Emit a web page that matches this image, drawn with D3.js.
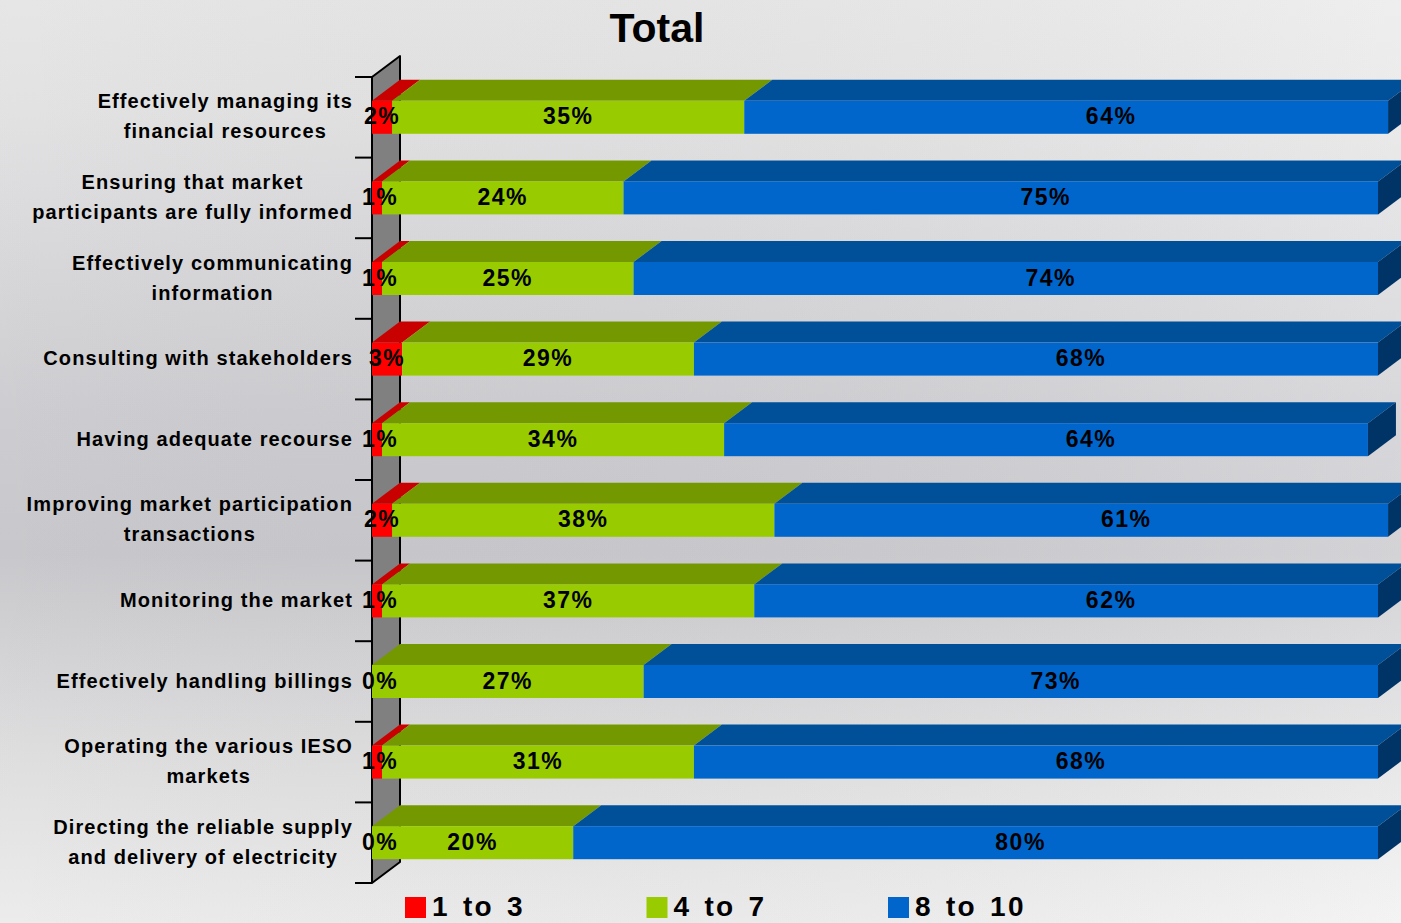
<!DOCTYPE html>
<html>
<head>
<meta charset="utf-8">
<script src="https://cdn.jsdelivr.net/npm/d3@7"></script>
<style>
  html, body { margin: 0; padding: 0; overflow: hidden; }
  svg { display: block; font-family: Arial, "Liberation Sans", sans-serif; }
</style>
</head>
<body>
<svg id="chart" width="1401" height="923"></svg>
<script>
// Rating distribution per attribute (share of respondents, %)
const categories = [
  "Effectively managing its|financial resources",
  "Ensuring that market|participants are fully informed",
  "Effectively communicating|information",
  "Consulting with stakeholders",
  "Having adequate recourse",
  "Improving market participation|transactions",
  "Monitoring the market",
  "Effectively handling billings",
  "Operating the various IESO|markets",
  "Directing the reliable supply|and delivery of electricity"
];
const seriesNames = ["1 to 3", "4 to 7", "8 to 10"];
const low  = [2, 1, 1, 3, 1, 2, 1, 0, 1, 0];
const mid  = [35, 24, 25, 29, 34, 38, 37, 27, 31, 20];
const high = [64, 75, 74, 68, 64, 61, 62, 73, 68, 80];
const titleText = "Total";

// face colours: front, top, side
const palette = [
  { front: "#ff0000", top: "#c80000", side: "#990000" },
  { front: "#99cc00", top: "#749900", side: "#5a7700" },
  { front: "#0066cc", top: "#004f99", side: "#003366" }
];

const W = 1401, H = 923;
const svg = d3.select("#chart");

// background gradient
const defs = svg.append("defs");
const vg = defs.append("linearGradient").attr("id", "bgV")
  .attr("x1", 0).attr("y1", 0).attr("x2", 0).attr("y2", 1);
[["0%", "#ececec"], ["12%", "#e8e8e9"], ["45%", "#d2d2d6"], ["60%", "#cdcdd1"],
 ["82%", "#e4e4e5"], ["100%", "#f2f2f2"]]
  .forEach(([o, c]) => vg.append("stop").attr("offset", o).attr("stop-color", c));
const hg = defs.append("linearGradient").attr("id", "bgH")
  .attr("x1", 0).attr("y1", 0).attr("x2", 1).attr("y2", 0);
hg.append("stop").attr("offset", "0%").attr("stop-color", "#000").attr("stop-opacity", 0.025);
hg.append("stop").attr("offset", "100%").attr("stop-color", "#fff").attr("stop-opacity", 0.12);
svg.append("rect").attr("width", W).attr("height", H).attr("fill", "url(#bgV)");
svg.append("rect").attr("width", W).attr("height", H).attr("fill", "url(#bgH)");

// scales
const x = d3.scaleLinear().domain([0, 100]).range([372, 1378]);
const y = d3.scaleBand().domain(d3.range(categories.length)).range([77, 883]);
const barH = 33;
const depth = { dx: 28, dy: -21 };

// side wall
const wallTop = y.range()[0], wallBot = y.range()[1], x0 = x(0);
svg.append("path")
  .attr("d", `M${x0},${wallTop} L${x0 + depth.dx},${wallTop + depth.dy} L${x0 + depth.dx},${wallBot + depth.dy} L${x0},${wallBot} Z`)
  .attr("fill", "#808080").attr("stroke", "#000").attr("stroke-width", 2).attr("stroke-linejoin", "round");

// category ticks
const tickPos = d3.range(categories.length + 1).map(i => wallTop + i * y.step());
svg.append("g").selectAll("line").data(tickPos).join("line")
  .attr("x1", x0 - 17).attr("x2", x0).attr("y1", d => d).attr("y2", d => d)
  .attr("stroke", "#000").attr("stroke-width", 2);

// stacked segments
const stackData = categories.map((c, i) => ({ i, low: low[i], mid: mid[i], high: high[i] }));
const stacked = d3.stack().keys(["low", "mid", "high"])(stackData);

const bars = svg.append("g");
categories.forEach((c, i) => {
  const yc = y(i) + y.bandwidth() / 2;
  const yt = yc - barH / 2, yb = yc + barH / 2;
  const g = bars.append("g");
  stacked.forEach((s, k) => {
    const [a, b] = s[i];
    if (b - a <= 0) return;
    const xa = x(a), xb = x(b);
    g.append("path")
      .attr("d", `M${xa},${yt} L${xa + depth.dx},${yt + depth.dy} L${xb + depth.dx},${yt + depth.dy} L${xb},${yt} Z`)
      .attr("fill", palette[k].top);
    g.append("rect")
      .attr("x", xa).attr("y", yt).attr("width", xb - xa).attr("height", barH)
      .attr("fill", palette[k].front);
  });
  // end cap of the last segment
  const last = stacked[stacked.length - 1][i][1];
  const xe = x(last);
  g.append("path")
    .attr("d", `M${xe},${yt} L${xe + depth.dx},${yt + depth.dy} L${xe + depth.dx},${yb + depth.dy} L${xe},${yb} Z`)
    .attr("fill", palette[2].side);
});

// value labels
const labels = svg.append("g")
  .attr("font-size", 23).attr("font-weight", "bold").attr("fill", "#000")
  .attr("letter-spacing", 1.5).attr("text-anchor", "middle");
categories.forEach((c, i) => {
  const yc = y(i) + y.bandwidth() / 2;
  stacked.forEach((s, k) => {
    const [a, b] = s[i];
    let cx = (x(a) + x(b)) / 2;
    if (k === 2) cx += 45;
    if (k === 0) cx = Math.max(cx, x(0) + 8);
    labels.append("text")
      .attr("x", cx).attr("y", yc + 7)
      .text(`${b - a}%`);
  });
});

// category labels
const catG = svg.append("g")
  .attr("font-size", 20).attr("font-weight", "bold").attr("fill", "#000")
  .attr("letter-spacing", 1.1).attr("text-anchor", "middle");
const rightEdge = 353;
categories.forEach((c, i) => {
  const lines = c.split("|");
  const yc = y(i) + y.bandwidth() / 2;
  const t = catG.append("text");
  const spans = lines.map((ln, j) => t.append("tspan").text(ln)
    .attr("y", yc + 6 + (j - (lines.length - 1) / 2) * 30));
  const maxW = d3.max(spans, s => s.node().getComputedTextLength());
  spans.forEach(s => s.attr("x", rightEdge - maxW / 2));
});

// title
svg.append("text").attr("x", 657).attr("y", 42)
  .attr("text-anchor", "middle").attr("font-size", 41).attr("font-weight", "bold")
  .text(titleText);

// legend
const legend = svg.append("g");
seriesNames.forEach((n, k) => {
  const lx = 405 + k * 241.5;
  legend.append("rect").attr("x", lx).attr("y", 897).attr("width", 21).attr("height", 21)
    .attr("fill", palette[k].front);
  legend.append("text").attr("x", lx + 27).attr("y", 916)
    .attr("font-size", 28).attr("font-weight", "bold").attr("letter-spacing", 2.3)
    .attr("word-spacing", 3)
    .text(n);
});
</script>
</body>
</html>
